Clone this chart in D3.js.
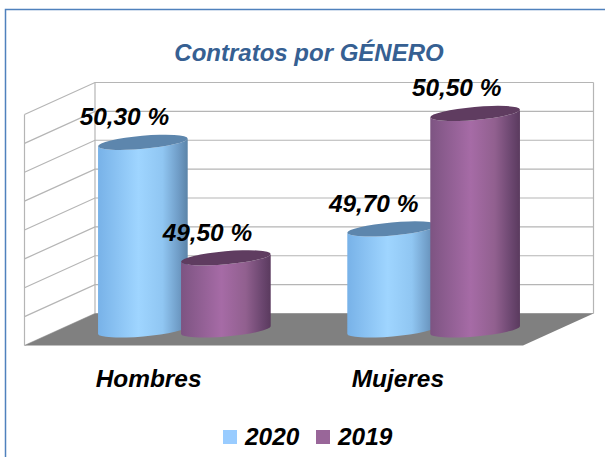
<!DOCTYPE html>
<html>
<head>
  <meta charset="utf-8">
  <title>Contratos por GÉNERO</title>
  <style>
    html, body { margin: 0; padding: 0; background: #fff; }
    svg { display: block; }
    text { font-family: "Liberation Sans", Arial, sans-serif; font-weight: bold; font-style: italic; font-size: 24.4px; fill: #000; }
    .grid { stroke: #b5b5b5; stroke-width: 1.2px; fill: none; }
  </style>
</head>
<body>
  <svg id="chart" width="605" height="457"></svg>

  <script src="https://d3js.org/d3.v7.min.js"></script>
  <script>
    const categories = ['Hombres', 'Mujeres'];
    const seriesNames = ['2020', '2019'];
    const values2020 = [50.3, 49.7];
    const values2019 = [49.5, 50.5];
    const labels2020 = ['50,30 %', '49,70 %'];
    const labels2019 = ['49,50 %', '50,50 %'];
    const axisTicks = [49, 49.2, 49.4, 49.6, 49.8, 50, 50.2, 50.4, 50.6];

    const svg = d3.select('#chart');
    const width = 605, height = 457;

    // 3d box: front edge of the floor, then the shift to the back wall
    const frontLeft = 24.5, frontRight = 523, frontY = 345.5;
    const depthX = 70.5, depthY = -32;
    const barR = 45, barRy = 6.5, tilt = -5;
    const barShift = 83;
    const baseY = 330;

    const x = d3.scaleBand().domain(categories).range([frontLeft, frontRight]);
    const wallY = d3.scaleLinear().domain([49, 50.6]).range([frontY + depthY, frontY + depthY - 231]);
    const barH = d3.scaleLinear().domain([49, 50.6]).range([0, 231]);

    // frame
    svg.append('path')
      .attr('d', `M${width},9.5H5.5V${height}`)
      .attr('fill', 'none')
      .attr('stroke', '#4f81bd')
      .attr('stroke-width', 1.5);

    // walls
    const backLeft = frontLeft + depthX, backRight = frontRight + depthX;
    axisTicks.forEach(t => {
      const y = wallY(t);
      svg.append('path').attr('class', 'grid')
        .attr('d', `M${frontLeft},${y - depthY}L${backLeft},${y}H${backRight}`);
    });
    svg.append('path').attr('class', 'grid')
      .attr('d', `M${frontLeft},${frontY}V${wallY(50.6) - depthY}`);
    svg.append('path').attr('class', 'grid')
      .attr('d', `M${backLeft},${wallY(49)}V${wallY(50.6)}`);
    svg.append('path').attr('class', 'grid')
      .attr('d', `M${backRight},${wallY(49)}V${wallY(50.6)}`);

    // floor
    svg.append('path')
      .attr('d', `M${frontLeft},${frontY}L${backLeft},${frontY + depthY}H${backRight}L${frontRight},${frontY}Z`)
      .attr('fill', '#808080');

    // gradients for the cylinders
    const defs = svg.append('defs');
    const gradients = {
      '2020': [[0, '#78b2e8'], [0.45, '#9fd5ff'], [0.72, '#90c6f2'], [0.9, '#6f9cc6'], [1, '#5b84a8']],
      '2019': [[0, '#7d5482'], [0.45, '#a66ba6'], [0.72, '#91608f'], [0.9, '#6c4770'], [1, '#5a3a5e']]
    };
    const topColor = { '2020': '#5d86ad', '2019': '#5f3c60' };
    const legendColor = { '2020': '#99ccff', '2019': '#996699' };
    seriesNames.forEach(name => {
      const g = defs.append('linearGradient').attr('id', 'body' + name);
      gradients[name].forEach(s => g.append('stop').attr('offset', s[0]).attr('stop-color', s[1]));
    });

    function drawBar(cx, value, name) {
      const h = barH(value);
      const rad = tilt * Math.PI / 180;
      const dx = barR * Math.cos(rad), dy = barR * Math.sin(rad);
      const topY = baseY - h;
      const arc = `A${barR},${barRy} ${tilt} 0 0`;
      svg.append('path')
        .attr('d', `M${cx - dx},${topY - dy}L${cx - dx},${baseY - dy}${arc} ${cx + dx},${baseY + dy}L${cx + dx},${topY + dy}${arc.replace('0 0', '0 1')} ${cx - dx},${topY - dy}Z`)
        .attr('fill', `url(#body${name})`);
      svg.append('ellipse')
        .attr('cx', 0).attr('cy', 0)
        .attr('rx', barR).attr('ry', barRy)
        .attr('transform', `translate(${cx},${topY}) rotate(${tilt})`)
        .attr('fill', topColor[name]);
    }

    const barCenter = (cat, i) => x(cat) + x.bandwidth() / 2 + depthX / 2 + (i === 0 ? -barShift / 2 : barShift / 2);

    categories.forEach((cat, c) => {
      drawBar(barCenter(cat, 0), values2020[c], '2020');
      drawBar(barCenter(cat, 1), values2019[c], '2019');
    });

    // value labels sit above the bars, nudged left
    categories.forEach((cat, c) => {
      [[values2020, labels2020], [values2019, labels2019]].forEach((s, i) => {
        svg.append('text')
          .attr('x', barCenter(cat, i) - 18.5)
          .attr('y', baseY - barH(s[0][c]) - 17)
          .attr('text-anchor', 'middle')
          .text(s[1][c]);
      });
    });

    // category labels
    svg.selectAll('.cat').data(categories).enter().append('text')
      .attr('class', 'cat')
      .attr('x', d => x(d) + x.bandwidth() / 2 - 0.5)
      .attr('y', 387)
      .attr('text-anchor', 'middle')
      .text(d => d);

    // title
    svg.append('text')
      .attr('x', 309).attr('y', 61)
      .attr('text-anchor', 'middle')
      .style('fill', '#366092')
      .style('font-size', '24px')
      .text('Contratos por GÉNERO');

    // legend
    const legendX = d3.scaleOrdinal().domain(seriesNames).range([223, 316]);
    seriesNames.forEach(name => {
      svg.append('rect')
        .attr('x', legendX(name)).attr('y', 430)
        .attr('width', 14).attr('height', 14)
        .attr('fill', legendColor[name]);
      svg.append('text')
        .attr('x', legendX(name) + 22).attr('y', 445)
        .text(name);
    });
  </script>
</body>
</html>
